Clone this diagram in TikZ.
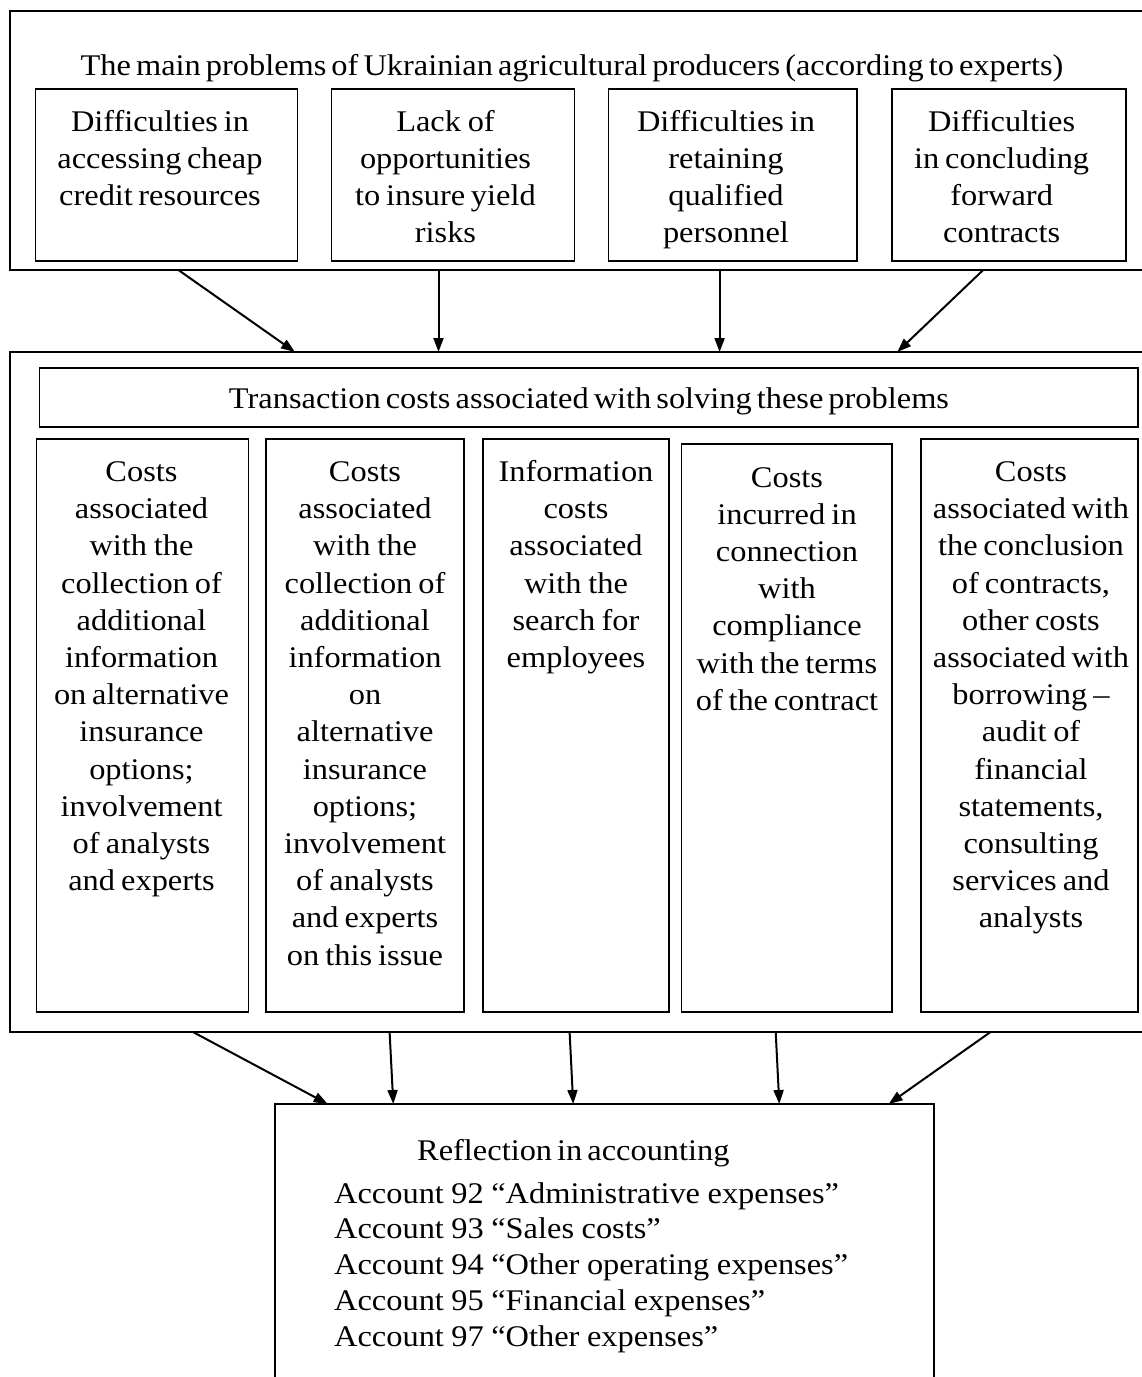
\documentclass[tikz,border=0pt]{standalone}
\usepackage{fontspec}
\setmainfont{Liberation Serif}[FakeStretch=1.08,WordSpace=0.62]
\usetikzlibrary{arrows.meta}

\begin{document}
\begin{tikzpicture}[x=1pt,y=-1pt,
  frame/.style={draw, line width=1.9pt, inner sep=0pt, outer sep=0pt, anchor=north west},
  cell/.style={draw, line width=1.2pt, inner sep=0pt, outer sep=0pt, anchor=north west},
  txt/.style={inner sep=0pt, align=center, anchor=base, font=\fontsize{30}{37.2}\selectfont},
  coltxt/.style={txt, text width=230pt,
    execute at begin node={\spaceskip=0.17em plus 0.05em\relax}},
  flow/.style={line width=2pt, -{Triangle[length=14pt,width=10pt]}},
]
\useasboundingbox (0,0) rectangle (1142,1377);
\clip (0,0) rectangle (1142,1377);

% ---- problems of the producers ----
\node[frame, minimum width=1140pt, minimum height=259pt] (prob) at (10,11) {};
\node[txt] (probtitle) at (572,75.5)
  {The main problems of Ukrainian agricultural producers (according to experts)};

\node[cell, minimum width=262pt,   minimum height=172pt] (p1) at (35.6,89) {};
\node[cell, minimum width=243pt,   minimum height=172pt] (p2) at (331.8,89) {};
\node[cell, minimum width=248.7pt, minimum height=172pt] (p3) at (608.3,89) {};
\node[cell, minimum width=234pt,   minimum height=172pt] (p4) at (892,89) {};

\node[coltxt] (p1t) at (160,131) {Difficulties in\\accessing cheap\\credit resources};
\node[coltxt] (p2t) at (445.5,131) {Lack of\\opportunities\\to insure yield\\risks};
\node[coltxt] (p3t) at (726,131) {Difficulties in\\retaining\\qualified\\personnel};
\node[coltxt] (p4t) at (1001.7,131) {Difficulties\\in concluding\\forward\\contracts};

% ---- transaction costs ----
\node[frame, minimum width=1140pt, minimum height=680pt] (trans) at (10,352) {};
\node[cell, minimum width=1098.6pt, minimum height=59pt] (transhead) at (39.4,368) {};
\node[txt] (transtitle) at (589,408.3)
  {Transaction costs associated with solving these problems};

\node[cell, minimum width=212.4pt, minimum height=573pt] (c1) at (36.4,439) {};
\node[cell, minimum width=198pt,   minimum height=573pt] (c2) at (266,439) {};
\node[cell, minimum width=186pt,   minimum height=573pt] (c3) at (483,439) {};
\node[cell, minimum width=210.5pt, minimum height=568pt] (c4) at (681.5,444) {};
\node[cell, minimum width=217pt,   minimum height=573pt] (c5) at (921,439) {};

\node[coltxt] (c1t) at (141.5,481.5) {Costs\\associated\\with the\\collection of\\additional\\information\\on alternative\\insurance\\options;\\involvement\\of analysts\\and experts};
\node[coltxt] (c2t) at (365,481.5) {Costs\\associated\\with the\\collection of\\additional\\information\\on\\alternative\\insurance\\options;\\involvement\\of analysts\\and experts\\on this issue};
\node[coltxt] (c3t) at (576,481.5) {Information\\costs\\associated\\with the\\search for\\employees};
\node[coltxt] (c4t) at (787,487) {Costs\\incurred in\\connection\\with\\compliance\\with the terms\\of the contract};
\node[coltxt] (c5t) at (1031,481.5) {Costs\\associated with\\the conclusion\\of contracts,\\other costs\\associated with\\borrowing --\\audit of\\financial\\statements,\\consulting\\services and\\analysts};

% ---- accounting ----
\node[frame, minimum width=659pt, minimum height=300pt] (acc) at (275.3,1104) {};
\node[txt, anchor=base west] (acctitle) at (417,1160) {Reflection in accounting};
\node[txt, anchor=base west, align=left, text width=560pt,
      font=\fontsize{30}{35.8}\selectfont,
      execute at begin node={\spaceskip=0.25em plus 0.05em\relax}] (acclist) at (334,1203)
  {Account 92 “Administrative expenses”\\
   Account 93 “Sales costs”\\
   Account 94 “Other operating expenses”\\
   Account 95 “Financial expenses”\\
   Account 97 “Other expenses”};

% ---- connectors: problems -> costs ----
\draw[flow] (prob.south -| 178.4,0) -- (trans.north -| 295,0);
\draw[flow] (prob.south -| 438.5,0) -- (trans.north -| 438.5,0);
\draw[flow] (prob.south -| 719.6,0) -- (trans.north -| 719.6,0);
\draw[flow] (prob.south -| 983.2,0) -- (trans.north -| 897.3,0);

% ---- connectors: costs -> accounting ----
\draw[flow] (trans.south -| 193,0)   -- (acc.north -| 327.7,0);
\draw[flow] (trans.south -| 389.6,0) -- (acc.north -| 393.3,0);
\draw[flow] (trans.south -| 569.6,0) -- (acc.north -| 573.2,0);
\draw[flow] (trans.south -| 775.7,0) -- (acc.north -| 779.3,0);
\draw[flow] (trans.south -| 990.5,0) -- (acc.north -| 888.6,0);
\end{tikzpicture}
\end{document}
